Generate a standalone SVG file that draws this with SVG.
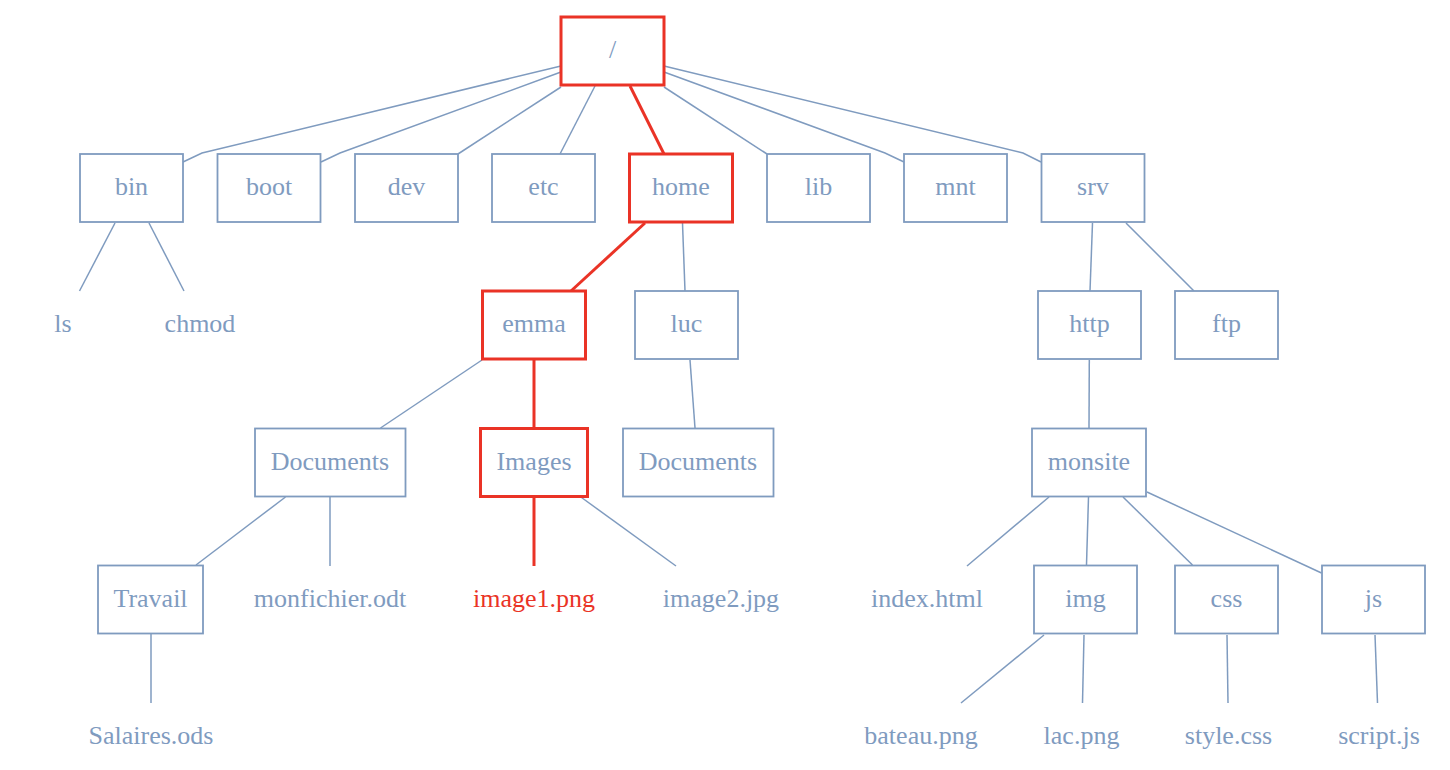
<svg xmlns="http://www.w3.org/2000/svg" width="1450" height="770" viewBox="0 0 1450 770">
<style>
  .box { fill: #ffffff; stroke: #7f9bbf; stroke-width: 1.8; }
  .hbox { fill: #ffffff; stroke: #ea3326; stroke-width: 3; }
  .t { font-family: "Liberation Serif", "Times New Roman", serif; font-size: 26px; fill: #7f9bbf; text-anchor: middle; }
  .rt { fill: #ea3326; }
  .e { fill: none; stroke: #7f9bbf; stroke-width: 1.5; }
  .he { fill: none; stroke: #ea3326; stroke-width: 3; }
</style>
<rect width="1450" height="770" fill="#ffffff"/>
<g id="connectors">
  <polyline class="e" points="561,66 202,153 183,162"/>
  <polyline class="e" points="561,72 340,153 321,162"/>
  <polyline class="e" points="561,87 458,154"/>
  <polyline class="e" points="595,86 560,154"/>
  <polyline class="e" points="664,87 767,154"/>
  <polyline class="e" points="664,72 885,153 904,162"/>
  <polyline class="e" points="664,66 1023,153 1041,162"/>
  <line class="e" x1="115" y1="223" x2="79.5" y2="291"/>
  <line class="e" x1="149" y1="223" x2="184" y2="291"/>
  <line class="e" x1="682.5" y1="223" x2="685" y2="291"/>
  <line class="e" x1="482" y1="360" x2="380.5" y2="428"/>
  <line class="e" x1="690" y1="360" x2="695" y2="428"/>
  <line class="e" x1="1092.5" y1="223" x2="1090" y2="291"/>
  <line class="e" x1="1126" y1="223" x2="1194" y2="291"/>
  <line class="e" x1="1089.3" y1="360" x2="1089" y2="428"/>
  <line class="e" x1="285.5" y1="497" x2="196" y2="565"/>
  <line class="e" x1="330" y1="497" x2="330" y2="566"/>
  <line class="e" x1="581.5" y1="497.5" x2="676" y2="566"/>
  <line class="e" x1="151" y1="634" x2="151" y2="703"/>
  <line class="e" x1="1049" y1="497" x2="967" y2="566"/>
  <line class="e" x1="1088.5" y1="497" x2="1086.5" y2="565"/>
  <line class="e" x1="1123" y1="497" x2="1192.5" y2="565"/>
  <line class="e" x1="1147" y1="492" x2="1321.5" y2="573"/>
  <line class="e" x1="1044" y1="635" x2="961" y2="703"/>
  <line class="e" x1="1084" y1="635" x2="1082.5" y2="703"/>
  <line class="e" x1="1227" y1="635" x2="1228" y2="703"/>
  <line class="e" x1="1375" y1="635" x2="1377.5" y2="703"/>
  <line class="he" x1="630" y1="86" x2="664" y2="154"/>
  <line class="he" x1="645" y1="223" x2="571" y2="291"/>
  <line class="he" x1="534" y1="360" x2="534" y2="428"/>
  <line class="he" x1="534" y1="497" x2="534" y2="566"/>
</g>
<g id="n-root"><rect class="hbox" x="561" y="17" width="103" height="68"/><text class="t" x="612.5" y="58">/</text></g>
<g id="n-bin"><rect class="box" x="80" y="154" width="103" height="68"/><text class="t" x="131.5" y="195">bin</text></g>
<g id="n-boot"><rect class="box" x="217.5" y="154" width="103" height="68"/><text class="t" x="269" y="195">boot</text></g>
<g id="n-dev"><rect class="box" x="355" y="154" width="103" height="68"/><text class="t" x="406.5" y="195">dev</text></g>
<g id="n-etc"><rect class="box" x="492" y="154" width="103" height="68"/><text class="t" x="543.5" y="195">etc</text></g>
<g id="n-home"><rect class="hbox" x="629.5" y="154" width="103" height="68"/><text class="t" x="681" y="195">home</text></g>
<g id="n-lib"><rect class="box" x="767" y="154" width="103" height="68"/><text class="t" x="818.5" y="195">lib</text></g>
<g id="n-mnt"><rect class="box" x="904" y="154" width="103" height="68"/><text class="t" x="955.5" y="195">mnt</text></g>
<g id="n-srv"><rect class="box" x="1041.5" y="154" width="103" height="68"/><text class="t" x="1093" y="195">srv</text></g>
<g id="n-ls"><text class="t" x="63" y="332">ls</text></g>
<g id="n-chmod"><text class="t" x="200" y="332">chmod</text></g>
<g id="n-emma"><rect class="hbox" x="482.5" y="291" width="103" height="68"/><text class="t" x="534" y="332">emma</text></g>
<g id="n-luc"><rect class="box" x="635" y="291" width="103" height="68"/><text class="t" x="686.5" y="332">luc</text></g>
<g id="n-http"><rect class="box" x="1038" y="291" width="103" height="68"/><text class="t" x="1089.5" y="332">http</text></g>
<g id="n-ftp"><rect class="box" x="1175" y="291" width="103" height="68"/><text class="t" x="1226.5" y="332">ftp</text></g>
<g id="n-documents-emma"><rect class="box" x="255" y="428.5" width="150.5" height="68"/><text class="t" x="330" y="470">Documents</text></g>
<g id="n-images"><rect class="hbox" x="480.5" y="428.5" width="107" height="68"/><text class="t" x="534" y="470">Images</text></g>
<g id="n-documents-luc"><rect class="box" x="623" y="428.5" width="150.5" height="68"/><text class="t" x="698" y="470">Documents</text></g>
<g id="n-monsite"><rect class="box" x="1032" y="428.5" width="114" height="68"/><text class="t" x="1089" y="470">monsite</text></g>
<g id="n-travail"><rect class="box" x="98" y="565.5" width="105" height="68"/><text class="t" x="150.5" y="607">Travail</text></g>
<g id="n-monfichier"><text class="t" x="330" y="607">monfichier.odt</text></g>
<g id="n-image1"><text class="t rt" x="534" y="607">image1.png</text></g>
<g id="n-image2"><text class="t" x="721" y="607">image2.jpg</text></g>
<g id="n-index"><text class="t" x="927" y="607">index.html</text></g>
<g id="n-img"><rect class="box" x="1034" y="565.5" width="103" height="68"/><text class="t" x="1085.5" y="607">img</text></g>
<g id="n-css"><rect class="box" x="1175" y="565.5" width="103" height="68"/><text class="t" x="1226.5" y="607">css</text></g>
<g id="n-js"><rect class="box" x="1322" y="565.5" width="103" height="68"/><text class="t" x="1373.5" y="607">js</text></g>
<g id="n-salaires"><text class="t" x="151" y="744">Salaires.ods</text></g>
<g id="n-bateau"><text class="t" x="921" y="744">bateau.png</text></g>
<g id="n-lac"><text class="t" x="1081.5" y="744">lac.png</text></g>
<g id="n-style"><text class="t" x="1228.5" y="744">style.css</text></g>
<g id="n-script"><text class="t" x="1379" y="744">script.js</text></g>
</svg>
